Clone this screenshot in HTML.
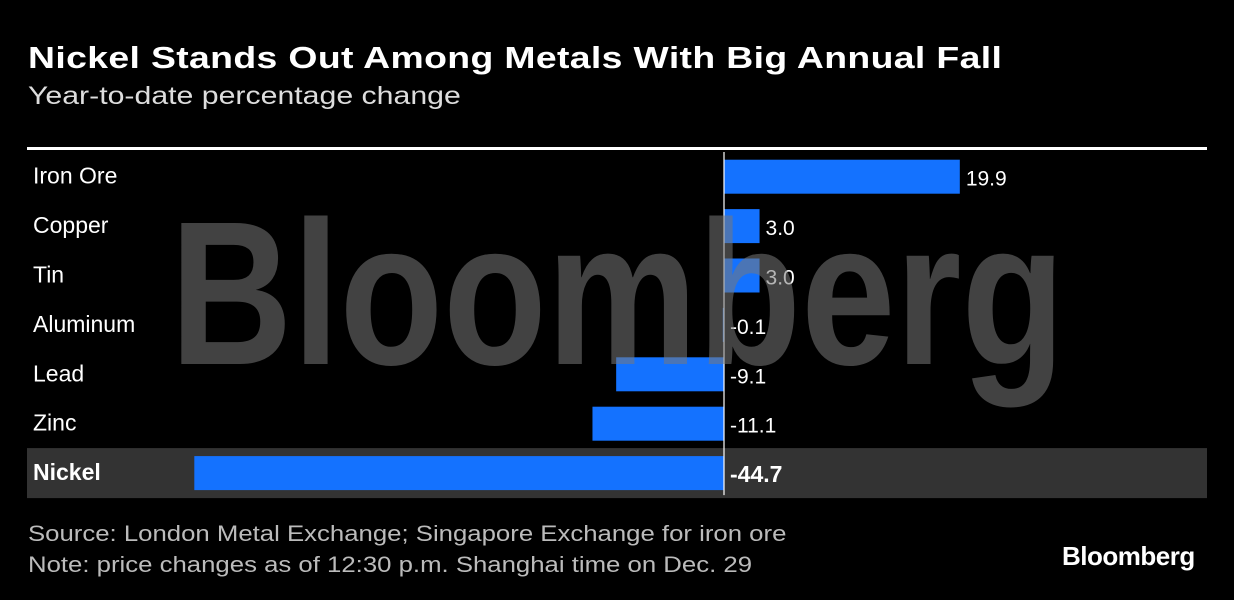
<!DOCTYPE html>
<html><head><meta charset="utf-8"><style>
html,body{margin:0;padding:0;background:#000;}
body{width:1234px;height:600px;overflow:hidden;position:relative;font-family:"Liberation Sans",sans-serif;color:#fff;}
.t{position:absolute;white-space:nowrap;transform-origin:0 0;}
</style></head><body>
<div class="t" style="left:28px;top:40px;font-size:31px;font-weight:bold;letter-spacing:0.3px;transform:scaleX(1.205)">Nickel Stands Out Among Metals With Big Annual Fall</div>
<div class="t" style="left:28px;top:82px;font-size:25px;color:#ddd;transform:scaleX(1.21)">Year-to-date percentage change</div>
<svg id="chart" width="1234" height="600" style="position:absolute;left:0;top:0" xmlns="http://www.w3.org/2000/svg"></svg>
<div class="t" style="left:28px;top:518px;font-size:22px;color:#bbb;line-height:31px;transform:scaleX(1.17)">Source: London Metal Exchange; Singapore Exchange for iron ore<br>Note: price changes as of 12:30 p.m. Shanghai time on Dec. 29</div>
<div class="t" style="left:1062px;top:541px;font-size:26px;font-weight:bold;letter-spacing:-0.5px">Bloomberg</div>
<script>
const categories=["Iron Ore","Copper","Tin","Aluminum","Lead","Zinc","Nickel"];
const values=[19.9,3.0,3.0,-0.1,-9.1,-11.1,-44.7];
const labels=["19.9","3.0","3.0","-0.1","-9.1","-11.1","-44.7"];
const highlight="Nickel";
const svg=document.getElementById('chart');
const NS="http://www.w3.org/2000/svg";
const zeroX=724,scale=11.85,top0=152,pitch=49.4,barH=34;
function x(v){return zeroX+v*scale;}
function yc(i){return top0+pitch*i+pitch/2;}
function mk(t,a){const e=document.createElementNS(NS,t);for(const k in a)e.setAttribute(k,a[k]);svg.appendChild(e);return e;}
let hl=categories.indexOf(highlight);
if(hl>=0){const r=mk('rect',{x:27,y:yc(hl)-25,width:1180,height:50,fill:'#333'});

}
const tl=mk('rect',{x:27,y:147,width:1180,height:3,fill:'#fff'});


categories.forEach((c,i)=>{
const v=values[i],b=i===hl;
const bx=Math.min(x(v),zeroX),bw=Math.max(Math.abs(x(v)-zeroX),1.5);
const r=mk('rect',{x:bx,y:yc(i)-barH/2,width:bw,height:barH,fill:'#1472ff'});


const lx=(v>0?x(v):zeroX)+6;
const vl=mk('text',{x:lx,y:yc(i)+9,fill:'#fff','font-size':b?23:21,'font-weight':b?'bold':'normal'});
vl.textContent=labels[i];


});
const ax=mk('line',{x1:zeroX,x2:zeroX,y1:152,y2:yc(categories.length-1)+22,stroke:'#fff','stroke-width':1.2});


const wm=mk('text',{x:170,y:364,fill:'rgba(120,120,120,0.55)','font-size':205,'font-weight':'bold',textLength:895,lengthAdjust:'spacingAndGlyphs'});
wm.textContent='Bloomberg';


categories.forEach((c,i)=>{
const t=mk('text',{x:33,y:yc(i)+7,fill:'#fff','font-size':23,'font-weight':i===hl?'bold':'normal'});
t.textContent=c;


});
</script>
</body></html>
